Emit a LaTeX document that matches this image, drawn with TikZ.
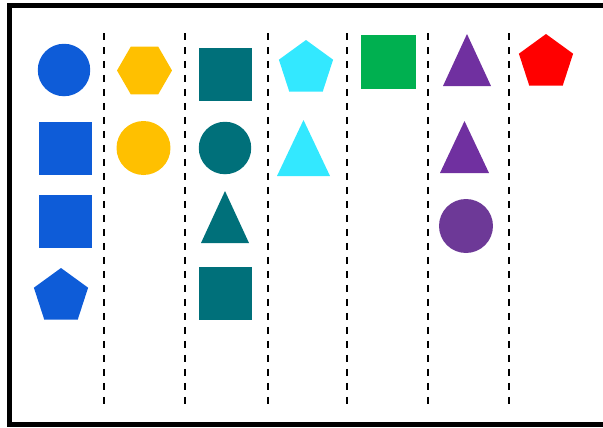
\documentclass[tikz,border=0pt]{standalone}
\usepackage{xcolor}
\usetikzlibrary{shapes.geometric}

\definecolor{shapeblue}{HTML}{0E5CD8}
\definecolor{shapeyellow}{HTML}{FFC000}
\definecolor{shapeteal}{HTML}{00707A}
\definecolor{shapecyan}{HTML}{33E8FF}
\definecolor{shapegreen}{HTML}{00B050}
\definecolor{shapepurple}{HTML}{7030A0}
\definecolor{shapeplum}{HTML}{6D3997}
\definecolor{shapered}{HTML}{FF0000}

\begin{document}
\begin{tikzpicture}[x=0.02cm, y=-0.02cm,
    every node/.style={inner sep=0pt, outer sep=0pt},
    disc/.style={circle, minimum size=1.05cm},
    sq/.style={rectangle, minimum size=1.06cm},
    penta/.style={regular polygon, regular polygon sides=5, minimum size=1.14cm},
    hexa/.style={regular polygon, regular polygon sides=6, minimum size=1.1cm},
    divider/.style={line width=0.04cm, dash pattern=on 0.14cm off 0.14cm}]
    \useasboundingbox (0,0) rectangle (603,427);

    % frame, open on the right
    \draw[line width=0.1cm] (603,5.5) -- (9.5,5.5) -- (9.5,424.5) -- (603,424.5);

    % column dividers
    \foreach \x in {104,185,268,347,428,509}
        \draw[divider] (\x,33) -- (\x,405);

    % column 1
    \node[disc, fill=shapeblue] (bcirc) at (64,70) {};
    \node[sq, fill=shapeblue] (bsqa) at (65.5,148.5) {};
    \node[sq, fill=shapeblue] (bsqb) at (65.5,221.5) {};
    \node[penta, fill=shapeblue] (bpent) at (61,296.5) {};

    % column 2
    \node[hexa, fill=shapeyellow] (yhex) at (144.5,70.5) {};
    \node[disc, fill=shapeyellow, minimum size=1.08cm] (ycirc) at (143.5,148) {};

    % column 3
    \node[sq, fill=shapeteal] (tsqa) at (225.5,74.5) {};
    \node[disc, fill=shapeteal] (tcirc) at (225,148) {};
    \fill[shapeteal] (201,243) -- (225,191) -- (249,243) -- cycle;
    \node[sq, fill=shapeteal] (tsqb) at (225.5,293.5) {};

    % column 4
    \node[penta, fill=shapecyan] (cpent) at (306,68.5) {};
    \fill[shapecyan] (277,176) -- (303.5,120) -- (330,176) -- cycle;

    % column 5
    \node[sq, fill=shapegreen, minimum size=1.09cm] (gsq) at (388.5,62) {};

    % column 6
    \fill[shapepurple] (443,86) -- (467,34) -- (491,86) -- cycle;
    \fill[shapepurple] (440,173) -- (464.5,121) -- (489,173) -- cycle;
    \node[disc, fill=shapeplum, minimum size=1.08cm] (pcirc) at (466,226) {};

    % column 7
    \node[penta, fill=shapered] (rpent) at (546,62.5) {};
\end{tikzpicture}
\end{document}
